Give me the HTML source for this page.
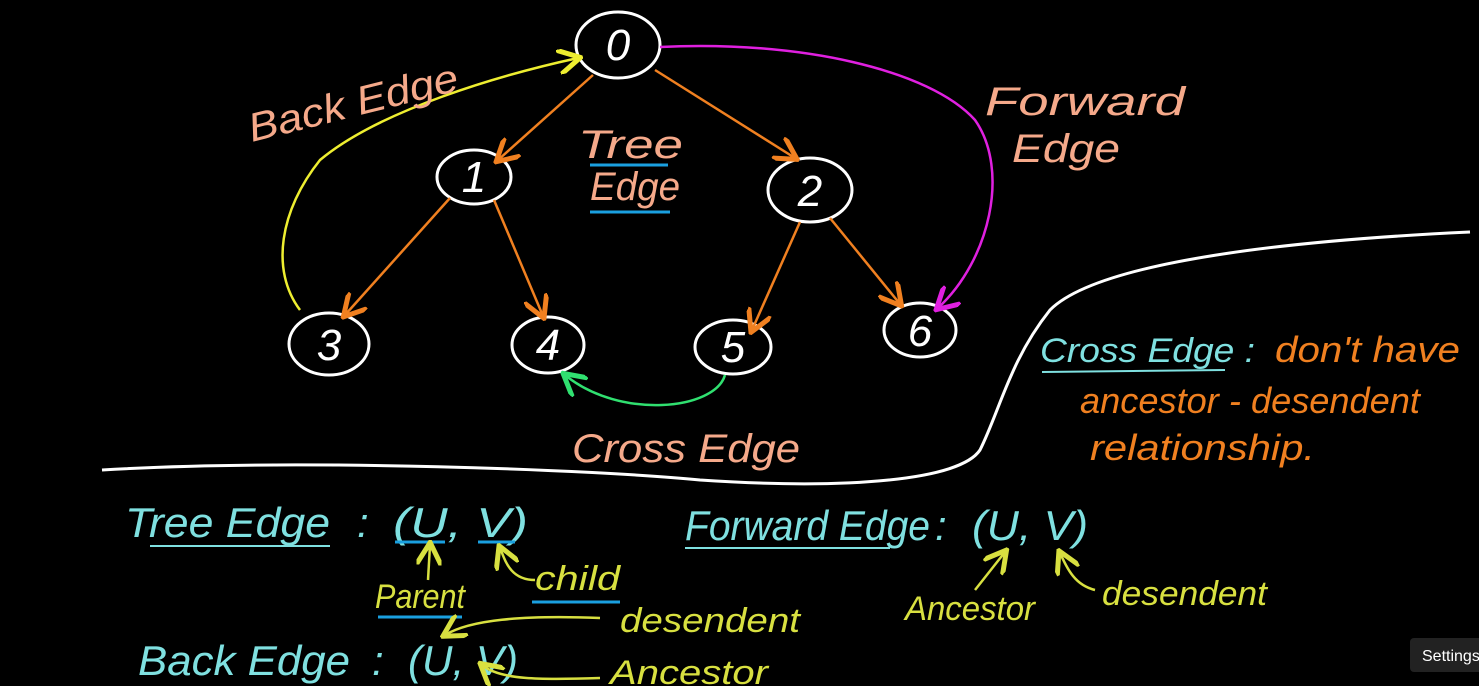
<!DOCTYPE html>
<html><head><meta charset="utf-8"><style>
html,body{margin:0;padding:0;background:#000;width:1479px;height:686px;overflow:hidden}
svg{display:block}
text{font-family:"Liberation Sans",sans-serif;font-style:italic}
</style></head><body>
<svg width="1479" height="686" viewBox="0 0 1479 686" xmlns="http://www.w3.org/2000/svg">
<defs>
<marker id="ao" markerWidth="10" markerHeight="10" refX="8" refY="5" orient="auto"><path d="M0,0 L9,5 L0,10" fill="none" stroke="#f08020" stroke-width="2"/></marker>
<marker id="ay" markerWidth="10" markerHeight="10" refX="8" refY="5" orient="auto"><path d="M0,0 L9,5 L0,10" fill="none" stroke="#eeee30" stroke-width="2"/></marker>
<marker id="am" markerWidth="10" markerHeight="10" refX="8" refY="5" orient="auto"><path d="M0,0 L9,5 L0,10" fill="none" stroke="#e020e0" stroke-width="2"/></marker>
<marker id="ag" markerWidth="10" markerHeight="10" refX="8" refY="5" orient="auto"><path d="M0,0 L9,5 L0,10" fill="none" stroke="#30e070" stroke-width="2"/></marker>
<marker id="ayl" markerWidth="10" markerHeight="10" refX="8" refY="5" orient="auto"><path d="M0,0 L9,5 L0,10" fill="none" stroke="#d8e040" stroke-width="2"/></marker>
</defs>
<g fill="none" stroke="#fff" stroke-width="3">
<ellipse cx="618" cy="45" rx="42" ry="33"/>
<ellipse cx="474" cy="177" rx="37" ry="27"/>
<ellipse cx="810" cy="190" rx="42" ry="32"/>
<ellipse cx="329" cy="344" rx="40" ry="31"/>
<ellipse cx="548" cy="345" rx="36" ry="28"/>
<ellipse cx="733" cy="347" rx="38" ry="27"/>
<ellipse cx="920" cy="330" rx="36" ry="27"/>
<path d="M102,470 C300,458 600,470 700,480 C850,490 960,480 980,450 C1000,410 1010,360 1050,310 C1100,260 1300,240 1470,232"/>
</g>
<g fill="#fff" font-size="44" text-anchor="middle" style="font-style:normal">
<text x="618" y="60">0</text><text x="474" y="192">1</text><text x="810" y="206">2</text>
<text x="329" y="360">3</text><text x="548" y="360">4</text><text x="733" y="362">5</text><text x="920" y="346">6</text>
</g>
<g fill="none" stroke="#f08020" stroke-width="2.5" marker-end="url(#ao)">
<path d="M593,75 L498,160"/><path d="M655,70 L795,158"/>
<path d="M450,198 L345,315"/><path d="M494,200 L543,316"/>
<path d="M800,222 L752,330"/><path d="M830,218 L900,304"/>
</g>
<path d="M300,310 C270,270 280,210 320,160 C380,110 500,75 578,58" fill="none" stroke="#eeee30" stroke-width="2.5" marker-end="url(#ay)"/>
<path d="M660,47 C800,40 930,70 975,120 C1010,170 990,260 938,308" fill="none" stroke="#e020e0" stroke-width="2.5" marker-end="url(#am)"/>
<path d="M725,375 C715,410 620,420 565,375" fill="none" stroke="#30e070" stroke-width="2.5" marker-end="url(#ag)"/>
<g fill="#f5a98a" font-size="40">
<text x="252" y="142" transform="rotate(-14 252 142)" textLength="215" lengthAdjust="spacingAndGlyphs">Back Edge</text>
<text x="985" y="115" textLength="200" lengthAdjust="spacingAndGlyphs">Forward</text><text x="1012" y="162" textLength="108" lengthAdjust="spacingAndGlyphs">Edge</text>
<text x="572" y="462" textLength="228" lengthAdjust="spacingAndGlyphs">Cross Edge</text>
<text x="578" y="158" textLength="105" lengthAdjust="spacingAndGlyphs">Tree</text><text x="590" y="200" textLength="90" lengthAdjust="spacingAndGlyphs">Edge</text>
</g>
<g stroke="#1aa0e0" stroke-width="3"><line x1="590" y1="165" x2="668" y2="165"/><line x1="590" y1="212" x2="670" y2="212"/></g>
<text x="1040" y="362" fill="#7fe0e0" font-size="34" textLength="215" lengthAdjust="spacingAndGlyphs">Cross Edge :</text>
<line x1="1042" y1="372" x2="1225" y2="370" stroke="#7fe0e0" stroke-width="2"/>
<g fill="#f08020" font-size="36"><text x="1275" y="362" textLength="185" lengthAdjust="spacingAndGlyphs">don't have</text><text x="1080" y="413" textLength="340" lengthAdjust="spacingAndGlyphs">ancestor - desendent</text><text x="1090" y="460" textLength="225" lengthAdjust="spacingAndGlyphs">relationship.</text></g>
<g fill="#7fe0e0" font-size="42">
<text x="125" y="537" textLength="205" lengthAdjust="spacingAndGlyphs">Tree Edge</text><text x="357" y="537">:</text><text x="393" y="537" textLength="135" lengthAdjust="spacingAndGlyphs">(U, V)</text>
<text x="685" y="540" textLength="245" lengthAdjust="spacingAndGlyphs">Forward Edge</text><text x="935" y="540">:</text><text x="972" y="540" textLength="116" lengthAdjust="spacingAndGlyphs">(U, V)</text>
<text x="138" y="675" textLength="212" lengthAdjust="spacingAndGlyphs">Back Edge</text><text x="372" y="675">:</text><text x="408" y="675" textLength="110" lengthAdjust="spacingAndGlyphs">(U, V)</text>
</g>
<g stroke="#7fe0e0" stroke-width="2"><line x1="150" y1="546" x2="330" y2="546"/><line x1="685" y1="548" x2="890" y2="548"/></g>
<g stroke="#1aa0e0" stroke-width="3"><line x1="395" y1="542" x2="445" y2="542"/><line x1="478" y1="542" x2="515" y2="542"/><line x1="378" y1="617" x2="462" y2="617"/><line x1="532" y1="602" x2="620" y2="602"/></g>
<g fill="#d8e040" font-size="34">
<text x="375" y="608" textLength="90" lengthAdjust="spacingAndGlyphs">Parent</text><text x="535" y="590" textLength="85" lengthAdjust="spacingAndGlyphs">child</text>
<text x="620" y="632" textLength="180" lengthAdjust="spacingAndGlyphs">desendent</text><text x="610" y="684" textLength="158" lengthAdjust="spacingAndGlyphs">Ancestor</text>
<text x="905" y="620" textLength="130" lengthAdjust="spacingAndGlyphs">Ancestor</text><text x="1102" y="605" textLength="165" lengthAdjust="spacingAndGlyphs">desendent</text>
</g>
<g fill="none" stroke="#d8e040" stroke-width="2.5" marker-end="url(#ayl)">
<path d="M428,580 L430,545"/><path d="M535,580 C510,580 505,560 500,548"/>
<path d="M600,618 C520,615 470,620 445,635"/><path d="M600,678 C540,680 500,680 482,665"/>
<path d="M975,590 L1005,552"/><path d="M1095,590 C1075,585 1068,570 1060,553"/>
</g>
<rect x="1410" y="638" width="80" height="34" rx="4" fill="#222"/>
<text x="1422" y="661" fill="#fff" font-size="16" style="font-style:normal">Settings</text>
</svg>
</body></html>
